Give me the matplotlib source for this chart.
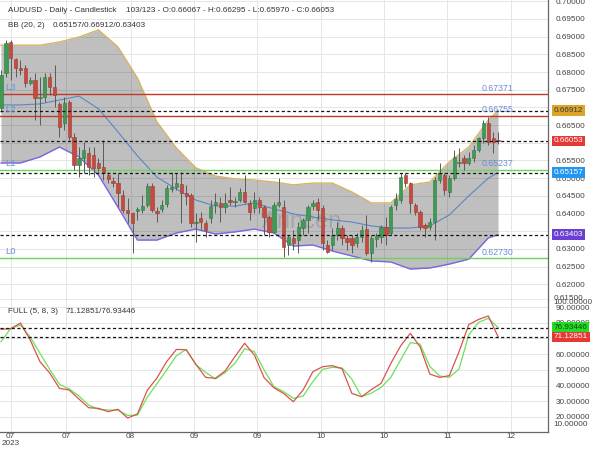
import matplotlib
matplotlib.use("Agg")
import matplotlib.pyplot as plt
import numpy as np
from matplotlib.ticker import FormatStrFormatter

plt.rcParams['font.family'] = ['Liberation Sans', 'DejaVu Sans']

# ---------------- data ----------------
opens = [
    0.6698, 0.6797, 0.6885, 0.6837, 0.6811, 0.6811, 0.6769, 0.6778, 0.6727, 0.6730,
    0.6786, 0.6758, 0.6710, 0.6656, 0.6715, 0.6616, 0.6537, 0.6557, 0.6571, 0.6566,
    0.6543, 0.6532, 0.6509, 0.6492, 0.6486, 0.6452, 0.6410, 0.6401, 0.6407, 0.6410,
    0.6424, 0.6478, 0.6407, 0.6413, 0.6427, 0.6469, 0.6475, 0.6483, 0.6458, 0.6452,
    0.6373, 0.6387, 0.6373, 0.6387, 0.6424, 0.6430, 0.6418, 0.6438, 0.6433, 0.6438,
    0.6461, 0.6430, 0.6415, 0.6438, 0.6418, 0.6390, 0.6347, 0.6424, 0.6418, 0.6311,
    0.6330, 0.6325, 0.6359, 0.6382, 0.6421, 0.6433, 0.6415, 0.6311, 0.6311, 0.6339,
    0.6359, 0.6330, 0.6330, 0.6316, 0.6333, 0.6356, 0.6288, 0.6328, 0.6333, 0.6362,
    0.6345, 0.6424, 0.6438, 0.6509, 0.6486, 0.6424, 0.6404, 0.6367, 0.6362, 0.6376,
    0.6495, 0.6509, 0.6461, 0.6500, 0.6543, 0.6557, 0.6543, 0.6557, 0.6580, 0.6614,
    0.6656, 0.6614, 0.66067]
highs = [
    0.6806, 0.6891, 0.6891, 0.6840, 0.6834, 0.6820, 0.6786, 0.6797, 0.6786, 0.6797,
    0.6797, 0.6820, 0.6715, 0.6730, 0.6721, 0.6628, 0.6588, 0.6602, 0.6588, 0.6588,
    0.6557, 0.6608, 0.6517, 0.6503, 0.6515, 0.6466, 0.6444, 0.6404, 0.6418, 0.6452,
    0.6486, 0.6486, 0.6418, 0.6438, 0.6481, 0.6517, 0.6515, 0.6517, 0.6481, 0.6458,
    0.6401, 0.6404, 0.6382, 0.6438, 0.6458, 0.6447, 0.6458, 0.6475, 0.6447, 0.6472,
    0.6509, 0.6438, 0.6461, 0.6447, 0.6424, 0.6396, 0.6433, 0.6500, 0.6438, 0.6339,
    0.6353, 0.6376, 0.6387, 0.6424, 0.6438, 0.6444, 0.6424, 0.6325, 0.6359, 0.6376,
    0.6367, 0.6339, 0.6339, 0.6345, 0.6367, 0.6396, 0.6339, 0.6345, 0.6367, 0.6390,
    0.6424, 0.6458, 0.6515, 0.6515, 0.6489, 0.6430, 0.6410, 0.6373, 0.6387, 0.6503,
    0.6543, 0.6515, 0.6509, 0.6580, 0.6585, 0.6566, 0.6574, 0.6594, 0.6616, 0.6664,
    0.6673, 0.6630, 0.66295]
lows = [
    0.6687, 0.6786, 0.6778, 0.6786, 0.6792, 0.6758, 0.6763, 0.6664, 0.6650, 0.6715,
    0.6735, 0.6701, 0.6616, 0.6636, 0.6608, 0.6523, 0.6503, 0.6515, 0.6509, 0.6503,
    0.6517, 0.6495, 0.6486, 0.6475, 0.6418, 0.6401, 0.6373, 0.6288, 0.6382, 0.6401,
    0.6418, 0.6404, 0.6376, 0.6404, 0.6418, 0.6461, 0.6466, 0.6373, 0.6424, 0.6362,
    0.6319, 0.6353, 0.6334, 0.6373, 0.6401, 0.6376, 0.6401, 0.6424, 0.6418, 0.6433,
    0.6430, 0.6382, 0.6401, 0.6401, 0.6339, 0.6334, 0.6345, 0.6418, 0.6277, 0.6282,
    0.6296, 0.6288, 0.6339, 0.6345, 0.6410, 0.6382, 0.6296, 0.6288, 0.6296, 0.6325,
    0.6311, 0.6296, 0.6288, 0.6305, 0.6319, 0.6282, 0.6263, 0.6305, 0.6316, 0.6311,
    0.6339, 0.6410, 0.6430, 0.6475, 0.6401, 0.6396, 0.6353, 0.6334, 0.6353, 0.6325,
    0.6486, 0.6452, 0.6447, 0.6495, 0.6532, 0.6523, 0.6537, 0.6546, 0.6574, 0.6599,
    0.6594, 0.6571, 0.65970]
closes = [
    0.6792, 0.6882, 0.6840, 0.6811, 0.6806, 0.6769, 0.6778, 0.6727, 0.6730, 0.6786,
    0.6758, 0.6735, 0.6645, 0.6712, 0.6616, 0.6537, 0.6557, 0.6580, 0.6532, 0.6529,
    0.6529, 0.6515, 0.6498, 0.6486, 0.6458, 0.6410, 0.6401, 0.6373, 0.6413, 0.6421,
    0.6478, 0.6410, 0.6401, 0.6424, 0.6472, 0.6475, 0.6486, 0.6458, 0.6449, 0.6373,
    0.6376, 0.6376, 0.6353, 0.6421, 0.6433, 0.6418, 0.6430, 0.6433, 0.6435, 0.6461,
    0.6433, 0.6404, 0.6438, 0.6418, 0.6390, 0.6347, 0.6424, 0.6433, 0.6305, 0.6333,
    0.6316, 0.6362, 0.6382, 0.6418, 0.6430, 0.6410, 0.6316, 0.6291, 0.6339, 0.6359,
    0.6330, 0.6319, 0.6311, 0.6333, 0.6353, 0.6288, 0.6330, 0.6336, 0.6362, 0.6339,
    0.6418, 0.6441, 0.6503, 0.6486, 0.6430, 0.6404, 0.6362, 0.6359, 0.6376, 0.6495,
    0.6515, 0.6466, 0.6500, 0.6560, 0.6546, 0.6543, 0.6557, 0.6580, 0.6614, 0.6656,
    0.6602, 0.6602, 0.66053]

# Bollinger bands (20, 2), read every 4th candle
bb_idx = [0, 4, 8, 12, 16, 20, 24, 28, 32, 36, 40, 44, 48, 52, 56, 60, 64, 68,
          72, 76, 80, 84, 88, 92, 96, 100, 102]
bb_upper = [0.6876, 0.6876, 0.6876, 0.6885, 0.6899, 0.6919, 0.6871, 0.6783, 0.6659,
            0.6585, 0.6529, 0.6506, 0.6498, 0.6495, 0.6489, 0.6481, 0.6486, 0.6486,
            0.6461, 0.6430, 0.6430, 0.6481, 0.6489, 0.6546, 0.6588, 0.6664, 0.66912]
bb_mid = [0.6707, 0.6707, 0.6710, 0.6721, 0.6732, 0.6696, 0.6631, 0.6563, 0.6503,
          0.6469, 0.6438, 0.6421, 0.6421, 0.6430, 0.6413, 0.6399, 0.6390, 0.6382,
          0.6376, 0.6365, 0.6359, 0.6359, 0.6365, 0.6396, 0.6450, 0.6500, 0.65157]
bb_lower = [0.6543, 0.6543, 0.6560, 0.6588, 0.6560, 0.6509, 0.6418, 0.6325, 0.6325,
            0.6345, 0.6356, 0.6342, 0.6348, 0.6356, 0.6345, 0.6308, 0.6311, 0.6294,
            0.6280, 0.6266, 0.6263, 0.6243, 0.6246, 0.6257, 0.6271, 0.6331, 0.63403]

# Stochastic FULL (5, 8, 3), read every 2nd candle
st_idx = list(range(0, 103, 2))
st_k = [75.8, 76.2, 79.8, 69.0, 55.2, 48.0, 38.2, 37.2, 31.4, 25.9,
        25.5, 23.4, 24.9, 19.3, 21.9, 36.9, 44.8, 55.2, 63.0, 62.8,
        53.5, 45.2, 44.6, 49.3, 58.4, 66.9, 59.4, 45.0, 38.6, 35.0,
        29.7, 37.2, 48.8, 52.0, 52.7, 50.7, 35.0, 32.9, 37.4, 41.4,
        54.1, 65.2, 73.2, 64.7, 47.3, 45.2, 46.3, 61.6, 78.8, 82.1,
        84.3, 71.12851]
st_d = [67.9, 76.4, 78.5, 70.9, 60.5, 50.3, 40.8, 37.8, 33.3, 27.6,
        24.9, 24.4, 24.4, 21.0, 21.2, 32.5, 41.2, 49.9, 59.0, 63.0,
        53.3, 48.4, 44.2, 48.2, 54.1, 63.5, 61.6, 49.9, 39.3, 36.1,
        31.9, 33.3, 42.5, 50.3, 51.6, 51.2, 44.0, 32.9, 35.2, 38.8,
        45.2, 56.3, 67.3, 66.4, 52.2, 46.1, 45.2, 50.5, 72.4, 80.2,
        82.8, 76.93446]

levels_red = [("L3", 0.67371), ("L2", 0.66755)]
levels_green = [("L1", 0.65237), ("L0", 0.62730)]
x_labels = ["07\n2023", "07", "08", "09", "09", "10", "10", "11", "12"]

last_close = 0.66053
bb_values = (0.65157, 0.66912, 0.63403)

# ---------------- layout ----------------
W, H = 600, 450
fig = plt.figure(figsize=(6, 4.5), dpi=100)
ax1 = fig.add_axes([0, 1 - 300 / H, 548 / W, 300 / H])
ax2 = fig.add_axes([0, 1 - 432 / H, 548 / W, 132 / H])

x_tick_pos = [2.0, 13.3, 26.6, 39.6, 52.6, 65.6, 78.6, 91.6, 104.7]
xlim = (-0.2, 112.25)
grid_c = '#e6e6e6'
axis_c = '#666666'
lab_c = '#444444'
fs = 5.9

for ax in (ax1, ax2):
    ax.set_xlim(*xlim)
    ax.set_xticks(x_tick_pos)
    ax.grid(True, color=grid_c, lw=0.7)
    ax.set_axisbelow(True)
    ax.yaxis.tick_right()
    ax.tick_params(axis='both', length=0, labelsize=fs, labelcolor=lab_c)
    ax.tick_params(axis='y', pad=5.5)
    for s in ('top', 'left'):
        ax.spines[s].set_visible(False)
    for s in ('bottom', 'right'):
        ax.spines[s].set_color(axis_c)
        ax.spines[s].set_linewidth(0.9)

# ---------------- price panel ----------------
ax1.set_ylim(0.61555, 0.70037)
ax1.set_yticks(np.round(np.arange(0.620, 0.7001, 0.005), 3))
ax1.yaxis.set_major_formatter(FormatStrFormatter('%.5f'))
ax1.tick_params(axis='x', labelbottom=False)

ax1.fill_between(bb_idx, bb_lower, bb_upper, color='#000000', alpha=0.25,
                 lw=0, zorder=1)
ax1.plot(bb_idx, bb_upper, color='#d6b461', lw=1.0, zorder=1.5)
ax1.plot(bb_idx, bb_lower, color='#7a66e0', lw=1.0, zorder=1.5)
ax1.plot(bb_idx, bb_mid, color='#5a86c8', lw=0.8, zorder=1.5)

ax1.text(61.8, 0.6376, 'Arincen', fontsize=17, color='#777777', alpha=0.35,
         ha='center', va='center', zorder=1.6)

for name, v in levels_red:
    ax1.axhline(v, color='#c0392b', lw=1.0, zorder=2)
for name, v in levels_green:
    ax1.axhline(v, color='#6fcf5f', lw=1.0, zorder=2)
for name, v in levels_red + levels_green:
    ax1.annotate(f"{v:.5f}", xy=(105.1, v), xytext=(0, 1.2),
                 textcoords='offset points', ha='right', va='bottom',
                 fontsize=fs + 0.4, color='#6b8fd6', zorder=5)
    ax1.annotate(name, xy=(0.8, v), xytext=(0, 1.5),
                 textcoords='offset points', ha='left', va='bottom',
                 fontsize=fs + 0.9, color='#6b8fd6', zorder=5)

# candles
x = np.arange(len(opens))
o = np.array(opens); c = np.array(closes)
hi = np.array(highs); lo = np.array(lows)
up = c >= o
ax1.vlines(x, lo, hi, color='#5a5a5a', lw=0.7, zorder=3)
body_lo = np.minimum(o, c)
body_h = np.maximum(np.abs(c - o), 0.00008)
ax1.bar(x[up], body_h[up], bottom=body_lo[up], width=0.68,
        color='#3f9a55', edgecolor='#2f7a42', lw=0.4, zorder=3.5)
ax1.bar(x[~up], body_h[~up], bottom=body_lo[~up], width=0.68,
        color='#c44b3f', edgecolor='#9e3a30', lw=0.4, zorder=3.5)

for v in (bb_values[1], last_close, bb_values[0], bb_values[2]):
    ax1.axhline(v, color='#111111', lw=0.9, ls=(0, (2.5, 2)), zorder=4)

ytr1 = ax1.get_yaxis_transform()
def badge(ax, v, txt, fc, tc):
    ax.text(1.0105, v, txt, transform=ax.get_yaxis_transform(), ha='left',
            va='center', fontsize=fs, color=tc, clip_on=False, zorder=10,
            bbox=dict(boxstyle='square,pad=0.2', fc=fc, ec='none'))

ax1.text(1.0105, 0.6161, '0.61500', transform=ytr1, ha='left', va='center',
         fontsize=fs, color=lab_c, clip_on=False, zorder=10,
         bbox=dict(boxstyle='square,pad=0.05', fc='white', ec='none'))
badge(ax1, bb_values[1], '0.66912', '#dba42c', '#3a3a3a')
badge(ax1, last_close, '0.66053', '#e53935', 'white')
badge(ax1, bb_values[0], '0.65157', '#2196f3', 'white')
badge(ax1, bb_values[2], '0.63403', '#6a3fd4', 'white')

# ---------------- stochastic panel ----------------
ax2.set_ylim(10.43, 94.46)
ax2.set_yticks([20, 30, 40, 50, 60, 70, 80, 90])
ax2.yaxis.set_major_formatter(FormatStrFormatter('%.5f'))
ax2.set_xticklabels(x_labels, linespacing=0.85)
ax2.tick_params(axis='x', pad=1)
ax2.plot(st_idx, st_d, color='#6ee05a', lw=0.9, zorder=3)
ax2.plot(st_idx, st_k, color='#d9534f', lw=0.9, zorder=3.2)
for v in (st_d[-1], st_k[-1]):
    ax2.axhline(v, color='#111111', lw=0.9, ls=(0, (2.5, 2)), zorder=4)
ytr2 = ax2.get_yaxis_transform()
ax2.text(1.0105, 93.0, '100.00000', transform=ytr2, ha='left', va='center',
         fontsize=fs, color=lab_c, clip_on=False, zorder=1)
ax2.text(1.0105, 14.9, '10.00000', transform=ytr2, ha='left', va='center',
         fontsize=fs, color=lab_c, clip_on=False, zorder=10)
badge(ax2, st_d[-1], '76.93446', '#22dd22', '#1f3f1f')
badge(ax2, st_k[-1], '71.12851', '#e53935', 'white')

# ---------------- header texts ----------------
hc = '#333333'
def ftext(px, py, s):
    fig.text(px / W, 1 - py / H, s, fontsize=fs, color=hc,
             ha='left', va='center')

ftext(8, 10.5, 'AUDUSD - Daily - Candlestick')
ftext(126, 10.5, '103/123 - O:0.66067 - H:0.66295 - L:0.65970 - C:0.66053')
ftext(8, 25.5, 'BB (20, 2)')
ftext(53, 25.5, '0.65157/0.66912/0.63403')
ftext(8, 311.5, 'FULL (5, 8, 3)')
ftext(66, 311.5, '71.12851/76.93446')

fig.savefig('out.png', dpi=100)
